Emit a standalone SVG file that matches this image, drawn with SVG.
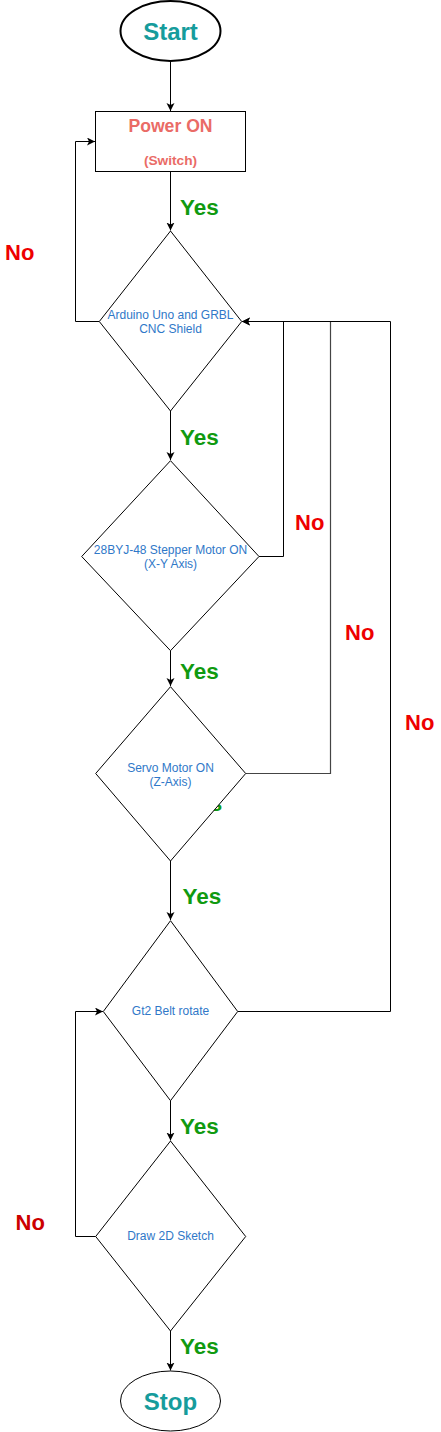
<svg xmlns="http://www.w3.org/2000/svg" width="441" height="1432" viewBox="0 0 441 1432">
<style>
.shape{fill:#fff;stroke:#000;stroke-width:1}
.term{fill:#fff;stroke:#000;stroke-width:1.3}
.conn{fill:none;stroke:#000;stroke-width:1}
.term-t{font-family:"Liberation Sans",Arial,sans-serif;font-weight:bold;font-size:24px;fill:#169c9c;text-anchor:middle}
.pw{font-family:"Liberation Sans",Arial,sans-serif;font-weight:bold;fill:#ea6b66;text-anchor:middle}
.dt{font-family:"Liberation Sans",Arial,sans-serif;font-size:12px;fill:#2f78c8;text-anchor:middle}
.yes{font-family:"Liberation Sans",Arial,sans-serif;font-weight:bold;font-size:22.5px;fill:#109a10}
.no{font-family:"Liberation Sans",Arial,sans-serif;font-weight:bold;font-size:22px;fill:#ee0000}
</style>
<defs>
<marker id="arr" markerWidth="10" markerHeight="10" refX="8" refY="4" orient="auto" markerUnits="userSpaceOnUse">
<path d="M0,0 L8,4 L0,8 L2,4 Z" fill="#000"/>
</marker>
</defs>
<g id="labels-hidden">
<text class="yes" x="183.5" y="811">Yes</text>
</g>
<g id="connectors">
<path class="conn" d="M170.5 61 V111" marker-end="url(#arr)"/>
<path class="conn" d="M170.5 171.5 V230.5" marker-end="url(#arr)"/>
<path class="conn" d="M99.3 321.5 H75.5 V141.5 H95" marker-end="url(#arr)"/>
<path class="conn" d="M170.5 411 V460" marker-end="url(#arr)"/>
<path class="conn" d="M259 556.5 H283.5 V321.5 H242" marker-end="url(#arr)"/>
<path class="conn" d="M170.5 650.7 V686" marker-end="url(#arr)"/>
<path class="conn" d="M245.7 773.5 H330.5 V321.5" style="stroke:#444;stroke-width:1.2"/>
<path class="conn" d="M170.5 861 V920" marker-end="url(#arr)"/>
<path class="conn" d="M237.7 1011.5 H390.5 V321.5 H242" marker-end="url(#arr)"/>
<path class="conn" d="M170.5 1100.7 V1140.5" marker-end="url(#arr)"/>
<path class="conn" d="M95.7 1236.5 H75.5 V1011.5 H103" marker-end="url(#arr)"/>
<path class="conn" d="M170.5 1331 V1370.5" marker-end="url(#arr)"/>
</g>
<g id="start">
<ellipse class="term" cx="170.5" cy="31" rx="50" ry="30" style="stroke-width:2"/>
<text class="term-t" x="170.5" y="40">Start</text>
</g>
<g id="power">
<rect class="shape" x="95.5" y="111.5" width="150" height="60"/>
<text class="pw" x="170.5" y="132" font-size="17.6">Power ON</text>
<text class="pw" x="170.5" y="165" font-size="13.7">(Switch)</text>
</g>
<g id="arduino">
<polygon class="shape" points="170.5,231 241.7,321.5 170.5,411 99.3,321.5"/>
<text class="dt" x="170.5" y="319" font-size="11.6">Arduino Uno and GRBL</text>
<text class="dt" x="170.5" y="333" font-size="11.6">CNC Shield</text>
</g>
<g id="stepper">
<polygon class="shape" points="170.5,460.7 259,556.5 170.5,650.7 81.7,556.5"/>
<text class="dt" x="170.5" y="554">28BYJ-48 Stepper Motor ON</text>
<text class="dt" x="170.5" y="568">(X-Y Axis)</text>
</g>
<g id="servo">
<polygon class="shape" points="170.5,686.7 245.7,773.5 170.5,861 95.7,773.5"/>
<text class="dt" x="170.5" y="772">Servo Motor ON</text>
<text class="dt" x="170.5" y="786">(Z-Axis)</text>
</g>
<g id="belt">
<polygon class="shape" points="170.5,920.7 237.7,1011.5 170.5,1100.7 103.3,1011.5"/>
<text class="dt" x="170.5" y="1015">Gt2 Belt rotate</text>
</g>
<g id="draw">
<polygon class="shape" points="170.5,1141 245.7,1236.5 170.5,1331 95.7,1236.5"/>
<text class="dt" x="170.5" y="1240">Draw 2D Sketch</text>
</g>
<g id="stop">
<ellipse class="term" cx="170.5" cy="1401" rx="50" ry="30" style="stroke-width:1"/>
<text class="term-t" x="170.5" y="1410">Stop</text>
</g>
<g id="labels">
<text class="yes" x="180" y="215">Yes</text>
<text class="yes" x="180" y="445">Yes</text>
<text class="yes" x="180" y="679">Yes</text>
<text class="yes" x="182.5" y="904">Yes</text>
<text class="yes" x="180" y="1134">Yes</text>
<text class="yes" x="180" y="1354">Yes</text>
<text class="no" x="5" y="260">No</text>
<text class="no" x="295" y="530">No</text>
<text class="no" x="345" y="640">No</text>
<text class="no" x="405" y="730">No</text>
<text class="no" x="15.5" y="1230" style="fill:#cc0000">No</text>
</g>
</svg>
